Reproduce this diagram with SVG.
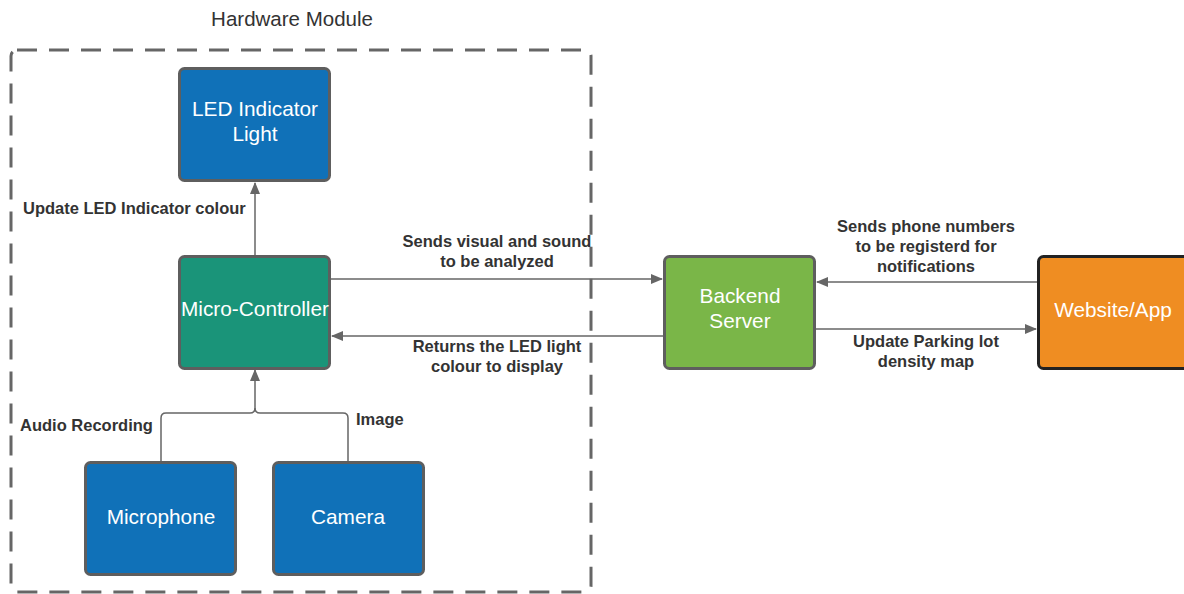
<svg xmlns="http://www.w3.org/2000/svg" width="1184" height="594" viewBox="0 0 1184 594">
<style>
.node{stroke:#5e5e5e;stroke-width:3}
.nt{font-family:"Liberation Sans",Arial,sans-serif;font-size:20.8px;fill:#fff;text-anchor:middle}
.lbl{font-family:"Liberation Sans",Arial,sans-serif;font-size:16.5px;font-weight:bold;fill:#333}
.c{fill:none;stroke:#666;stroke-width:1.5}
</style>
<defs>
<marker id="ah" viewBox="0 0 12 10" refX="11" refY="5" markerWidth="12" markerHeight="10" markerUnits="userSpaceOnUse" orient="auto">
<path d="M0,0 L12,5 L0,10 Z" fill="#666"/>
</marker>
</defs>
<rect width="1184" height="594" fill="#fff"/>
<g id="hardware-module">
<rect x="11" y="50" width="580" height="542" rx="6" fill="none" stroke="#666" stroke-width="3" stroke-dasharray="20 12"/>
<text x="292" y="26" font-family="'Liberation Sans',Arial,sans-serif" font-size="20.5" fill="#333" text-anchor="middle">Hardware Module</text>
</g>
<g id="connectors">
<path class="c" d="M255,256 V183" marker-end="url(#ah)"/>
<path class="c" d="M161,462 V418 Q161,413 166,413 H250 Q255,413 255,408 V370" marker-end="url(#ah)"/>
<path class="c" d="M348,462 V418 Q348,413 343,413 H260 Q255,413 255,408"/>
<path class="c" d="M330,279 H662" marker-end="url(#ah)"/>
<path class="c" d="M664,336 H332" marker-end="url(#ah)"/>
<path class="c" d="M1038,282 H817" marker-end="url(#ah)"/>
<path class="c" d="M815,329 H1036" marker-end="url(#ah)"/>
<text class="lbl" x="23" y="214">Update LED Indicator colour</text>
<text class="lbl" x="497" y="247" text-anchor="middle">Sends visual and sound</text>
<text class="lbl" x="497" y="267" text-anchor="middle">to be analyzed</text>
<text class="lbl" x="497" y="352" text-anchor="middle">Returns the LED light</text>
<text class="lbl" x="497" y="372" text-anchor="middle">colour to display</text>
<text class="lbl" x="926" y="232" text-anchor="middle">Sends phone numbers</text>
<text class="lbl" x="926" y="252" text-anchor="middle">to be registerd for</text>
<text class="lbl" x="926" y="272" text-anchor="middle">notifications</text>
<text class="lbl" x="926" y="347" text-anchor="middle">Update Parking lot</text>
<text class="lbl" x="926" y="367" text-anchor="middle">density map</text>
<text class="lbl" x="20" y="431">Audio Recording</text>
<text class="lbl" x="356" y="425">Image</text>
</g>
<g id="led">
<rect class="node" x="179.5" y="68.5" width="150" height="112" rx="5" fill="#1071b8"/>
<text class="nt" x="255" y="116">LED Indicator</text>
<text class="nt" x="255" y="141">Light</text>
</g>
<g id="micro-controller">
<rect class="node" x="179.5" y="256.5" width="150" height="112" rx="5" fill="#1a9479"/>
<text class="nt" x="255" y="316">Micro-Controller</text>
</g>
<g id="microphone">
<rect class="node" x="85.5" y="462.5" width="150" height="112" rx="5" fill="#1071b8"/>
<text class="nt" x="161" y="524">Microphone</text>
</g>
<g id="camera">
<rect class="node" x="273.5" y="462.5" width="150" height="112" rx="5" fill="#1071b8"/>
<text class="nt" x="348" y="524">Camera</text>
</g>
<g id="backend">
<rect class="node" x="664.5" y="256.5" width="150" height="112" rx="5" fill="#7ab648"/>
<text class="nt" x="740" y="303">Backend</text>
<text class="nt" x="740" y="328">Server</text>
</g>
<g id="website">
<rect x="1038.5" y="256.5" width="152" height="112" rx="5" fill="#ef8d22" stroke="#222" stroke-width="3"/>
<text class="nt" x="1113" y="317">Website/App</text>
</g>
</svg>
